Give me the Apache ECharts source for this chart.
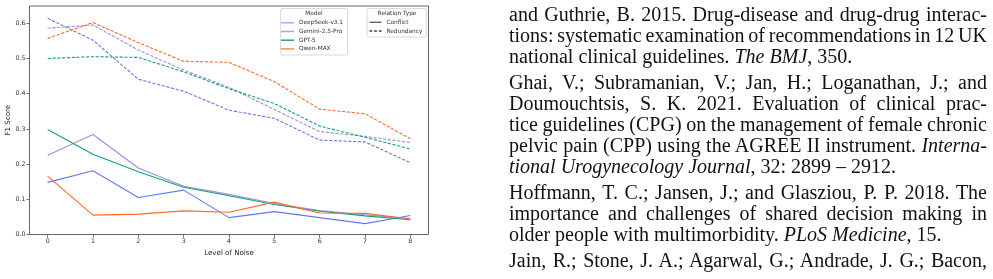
<!DOCTYPE html>
<html>
<head>
<meta charset="utf-8">
<script src="https://cdn.jsdelivr.net/npm/echarts@6/dist/echarts.min.js"></script>
<style>
html,body{margin:0;padding:0;background:#fff;}
#wrap{position:relative;width:993px;height:279px;overflow:hidden;background:#fff;}
#chart{position:absolute;left:0;top:0;width:993px;height:279px;}
#text{position:absolute;left:509px;top:0;width:478px;font-family:"Liberation Serif","Times New Roman",serif;font-size:20px;color:#111;}
.ln{position:absolute;left:0;height:21px;line-height:21px;white-space:nowrap;}
</style>
</head>
<body>
<div id="wrap">
<div id="chart"></div>
<div id="text"></div>
</div>
<script>
// ---- data ----
const noise = [0, 1, 2, 3, 4, 5, 6, 7, 8];
const models = ['DeepSeek-v3.1', 'Gemini-2.5-Pro', 'GPT-5', 'Qwen-MAX'];
const relationTypes = ['Conflict', 'Redundancy'];
const xTicks = [0, 1, 2, 3, 4, 5, 6, 7, 8];
const yTicks = [0.0, 0.1, 0.2, 0.3, 0.4, 0.5, 0.6];

const deepseekConflict = [0.148, 0.181, 0.105, 0.126, 0.048, 0.065, 0.048, 0.031, 0.054];
const geminiConflict   = [0.225, 0.284, 0.189, 0.137, 0.114, 0.088, 0.068, 0.056, 0.045];
const gptConflict      = [0.298, 0.228, 0.178, 0.134, 0.110, 0.085, 0.066, 0.053, 0.042];
const qwenConflict     = [0.166, 0.055, 0.058, 0.067, 0.063, 0.092, 0.061, 0.060, 0.044];

const deepseekRedundancy = [0.614, 0.552, 0.441, 0.407, 0.353, 0.330, 0.268, 0.263, 0.204];
const geminiRedundancy   = [0.586, 0.595, 0.524, 0.467, 0.418, 0.355, 0.292, 0.279, 0.261];
const gptRedundancy      = [0.500, 0.505, 0.503, 0.462, 0.414, 0.372, 0.308, 0.276, 0.243];
const qwenRedundancy     = [0.557, 0.602, 0.545, 0.492, 0.489, 0.434, 0.356, 0.343, 0.272];

// ---- text lines on the right ----
const textLines = [
  {p:0, j:true,  h:'and Guthrie, B. 2015. Drug-disease and drug-drug interac-'},
  {p:0, j:true,  h:'tions: systematic examination of recommendations in 12 UK'},
  {p:0, j:false, h:'national clinical guidelines. <i>The BMJ</i>, 350.'},
  {p:1, j:true,  h:'Ghai, V.; Subramanian, V.; Jan, H.; Loganathan, J.; and'},
  {p:1, j:true,  h:'Doumouchtsis, S. K. 2021. Evaluation of clinical prac-'},
  {p:1, j:true,  h:'tice guidelines (CPG) on the management of female chronic'},
  {p:1, j:true,  h:'pelvic pain (CPP) using the AGREE II instrument. <i>Interna-</i>'},
  {p:1, j:false, h:'<i>tional Urogynecology Journal</i>, 32: 2899 – 2912.'},
  {p:2, j:true,  h:'Hoffmann, T. C.; Jansen, J.; and Glasziou, P. P. 2018. The'},
  {p:2, j:true,  h:'importance and challenges of shared decision making in'},
  {p:2, j:false, h:'older people with multimorbidity. <i>PLoS Medicine</i>, 15.'},
  {p:3, j:true,  h:'Jain, R.; Stone, J. A.; Agarwal, G.; Andrade, J. G.; Bacon,'}
];

const TEXT_W = 478;
const textBox = document.getElementById('text');
textLines.forEach((l, i) => {
  const d = document.createElement('div');
  d.className = 'ln';
  d.style.top = (4 + 21 * i + 5 * l.p) + 'px';
  d.innerHTML = l.h;
  textBox.appendChild(d);
  if (l.j) {
    const w = d.getBoundingClientRect().width;
    const spaces = (d.textContent.match(/ /g) || []).length;
    if (spaces > 0) d.style.wordSpacing = ((TEXT_W - w) / spaces) + 'px';
  }
});

// ---- chart ----
const colors = ['#6478f5', '#9b8fe0', '#13a07a', '#ff6a2b'];
const legendColors = ['#a5b2fb', '#ada4e6', '#22a47e', '#ff8b58'];
const conflictData = [deepseekConflict, geminiConflict, gptConflict, qwenConflict];
const redundancyData = [deepseekRedundancy, geminiRedundancy, gptRedundancy, qwenRedundancy];

const toPairs = arr => noise.map((n, i) => [n, arr[i]]);

const series = [];
models.forEach((m, k) => {
  series.push({
    name: m, type: 'line', data: toPairs(conflictData[k]), symbol: 'none',
    color: colors[k], lineStyle: {width: 1.1, color: colors[k]}, z: 2 + k
  });
});
models.forEach((m, k) => {
  series.push({
    name: m, type: 'line', data: toPairs(redundancyData[k]), symbol: 'none',
    color: colors[k], lineStyle: {width: 1.1, color: colors[k], type: [3.2, 1.6]}, z: 2 + k
  });
});
series.push({name: 'Conflict', type: 'line', data: [], color: '#555', symbol: 'none'});
series.push({name: 'Redundancy', type: 'line', data: [], color: '#555', symbol: 'none'});

const FONT = 'DejaVu Sans';
const solidIcon = 'path://M0,0H13V1.5H0Z';
const dashIcon = 'path://M0,0H3V1.5H0Z M5,0H8V1.5H5Z M10,0H13V1.5H10Z';

const chart = echarts.init(document.getElementById('chart'), null, {renderer: 'canvas'});
chart.setOption({
  animation: false,
  backgroundColor: 'transparent',
  grid: {left: 29.5, right: 564.5, top: 6, bottom: 44.5, show: true, borderColor: '#555', borderWidth: 0.9, backgroundColor: 'transparent'},
  xAxis: {
    type: 'value', min: -0.4, max: 8.4,
    name: 'Level of Noise', nameLocation: 'middle', nameGap: 12,
    nameTextStyle: {fontFamily: FONT, fontSize: 7.1, color: '#222'},
    axisLine: {show: false, onZero: false},
    axisTick: {show: true, length: 3.2, customValues: xTicks, lineStyle: {color: '#555', width: 0.8}},
    axisLabel: {customValues: xTicks, fontFamily: FONT, fontSize: 6.3, color: '#333', margin: 4},
    splitLine: {show: false}
  },
  yAxis: {
    type: 'value', min: 0, max: 0.649,
    name: 'F1 Score', nameLocation: 'middle', nameGap: 17,
    nameTextStyle: {fontFamily: FONT, fontSize: 7.1, color: '#222'},
    axisLine: {show: false, onZero: false},
    axisTick: {show: true, length: 3.2, customValues: yTicks, lineStyle: {color: '#555', width: 0.8}},
    axisLabel: {customValues: yTicks, fontFamily: FONT, fontSize: 6.3, color: '#333', margin: 4,
      formatter: v => Number(v).toFixed(1)},
    splitLine: {show: false}
  },
  legend: [
    {
      z: 100, padding: 0, left: 281, top: 19.3, orient: 'vertical', itemWidth: 13, itemHeight: 1.5, itemGap: 1.7,
      selectedMode: false,
      textStyle: {fontFamily: FONT, fontSize: 5.8, color: '#333', lineHeight: 7},
      data: models.map((m, k) => ({name: m, icon: solidIcon, itemStyle: {color: legendColors[k]}}))
    },
    {
      z: 100, padding: 0, left: 369.5, top: 18.8, orient: 'vertical', itemWidth: 12, itemHeight: 1.5, itemGap: 1.7,
      selectedMode: false,
      textStyle: {fontFamily: FONT, fontSize: 5.8, color: '#333', lineHeight: 7},
      data: [
        {name: relationTypes[0], icon: solidIcon, itemStyle: {color: '#666'}},
        {name: relationTypes[1], icon: dashIcon, itemStyle: {color: '#444'}}
      ]
    }
  ],
  graphic: [
    {type: 'rect', z: 90, shape: {x: 280.5, y: 8.5, width: 67, height: 46.5, r: 1.5},
      style: {fill: 'rgba(255,255,255,0.85)', stroke: '#d0d0d0', lineWidth: 0.8}},
    {type: 'text', z: 101, style: {x: 314, y: 13.5, text: 'Model', fill: '#333', font: '5.8px "DejaVu Sans"', align: 'center', verticalAlign: 'middle'}},
    {type: 'rect', z: 90, shape: {x: 367, y: 8.5, width: 59.5, height: 28.5, r: 1.5},
      style: {fill: 'rgba(255,255,255,0.85)', stroke: '#d0d0d0', lineWidth: 0.8}},
    {type: 'text', z: 101, style: {x: 397, y: 13.5, text: 'Relation Type', fill: '#333', font: '5.8px "DejaVu Sans"', align: 'center', verticalAlign: 'middle'}}
  ],
  series: series
});
</script>
</body>
</html>
